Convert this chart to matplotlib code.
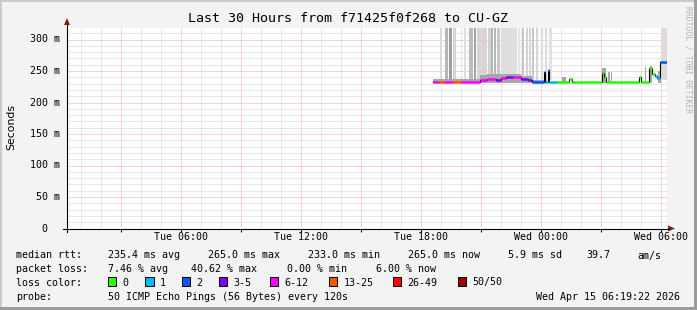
"""
SmokePing style latency graph: last 30 hours from f71425f0f268 to CU-GZ.
"""

import numpy as np
import matplotlib.pyplot as plt
from matplotlib.patches import Rectangle, Polygon
from matplotlib.lines import Line2D
from matplotlib import transforms

W, H = 697, 310
MONO = "DejaVu Sans Mono"

# time axis in hours since Tue 00:00, graph ends Wed 06:19:22
t_end = 30 + 19 / 60 + 22 / 3600
t_begin = t_end - 30

# median rtt segments (start hour, ms, lost pings of 50)
med_start = [18.60, 18.90, 19.15, 19.60, 20.00, 20.95, 21.30, 21.75, 22.00, 22.25,
             22.60, 23.00, 23.35, 23.55, 24.15, 24.20, 24.35, 24.40, 24.80, 25.40,
             25.55, 27.05, 27.15, 27.25, 28.90, 29.00, 29.40, 29.55, 29.70, 29.80,
             29.95]
med_stop = 30.30
med_ms = [233, 233, 233, 233, 233, 236, 238, 236, 239, 241,
          240, 238, 235, 233, 248, 233, 252, 233, 233, 237,
          233, 247, 241, 233, 241, 233, 254, 245, 242, 239,
          265]
med_lost = [8, 15, 8, 15, 8, 8, 8, 4, 8, 4,
            8, 4, 4, 2, 2, 1, 1, 1, 0, 0,
            0, 0, 0, 0, 0, 0, 0, 0, 1, 1,
            2]

# smoke columns where part of the pings went above the chart top
tall_start = [18.95, 19.20, 19.40, 19.60, 20.15, 20.40, 20.65, 20.80, 21.05, 21.35,
              21.50, 21.65, 21.80, 22.00, 22.85, 23.05, 23.25, 23.40, 23.55, 23.75,
              24.00, 24.20, 24.40, 30.05]
tall_stop = [19.05, 19.35, 19.55, 19.75, 20.25, 20.60, 20.75, 21.00, 21.30, 21.50,
             21.60, 21.75, 21.95, 22.80, 22.95, 23.15, 23.35, 23.50, 23.65, 23.85,
             24.10, 24.30, 24.55, 30.30]
tall_over = [6, 18, 26, 8, 5, 16, 24, 8, 8, 9,
             18, 18, 12, 5, 3, 12, 8, 8, 12, 8,
             6, 6, 4, 6]

# smoke spread that stays inside the chart (ms range)
low_start = [18.60, 20.95, 21.30, 23.00, 23.55, 25.05, 27.05, 27.35, 27.50, 29.20, 29.45, 29.85]
low_stop = [20.95, 21.30, 23.00, 23.55, 24.30, 25.25, 27.25, 27.45, 27.55, 29.25, 29.55, 30.00]
low_min = [231, 231, 231, 231, 231, 231, 231, 231, 231, 231, 231, 231]
low_max = [237, 243, 246, 242, 236, 240, 255, 248, 248, 257, 258, 250]

loss_labels = ["0", "1", "2", "3-5", "6-12", "13-25", "26-49", "50/50"]
loss_bounds = [0, 1, 2, 3, 6, 13, 26, 50]
loss_colors = ["#26ff00", "#00b8ff", "#0059ff", "#7e00ff",
               "#ff00ff", "#ff5500", "#ff0000", "#a10000"]

stats_rtt = ["235.4 ms avg", "265.0 ms max", "233.0 ms min", "265.0 ms now", "5.9 ms sd", "39.7", "am/s"]
stats_loss = ["7.46 % avg", "40.62 % max", "0.00 % min", "6.00 % now"]


def fx(px):
    return px / W


def fy(py):
    return 1 - py / H


def loss_color(lost):
    idx = 0
    for i, b in enumerate(loss_bounds):
        if lost >= b:
            idx = i
    return loss_colors[idx]


fig = plt.figure(figsize=(W / 100, H / 100), dpi=100)
fig.patch.set_facecolor("#f3f3f3")

# frame shading
frame = [((0, fy(2)), 1, 2 / H, "#cbcbcb"),
         ((0, 0), 2 / W, 1, "#cbcbcb"),
         ((fx(694), 0), 3 / W, 1, "#9c9c9c"),
         ((0, 0), 1, 3 / H, "#9c9c9c")]
for xy, w, h, c in frame:
    fig.add_artist(Rectangle(xy, w, h, transform=fig.transFigure, color=c, lw=0, zorder=-5))

ax = fig.add_axes([fx(67), fy(228.5), fx(600), fy(28) - fy(228.5)])
ax.set_facecolor("white")
ax.set_xlim(t_begin, t_end)
ax.set_ylim(0, 200.5 / 0.63)
for s in ax.spines.values():
    s.set_visible(False)

# grid
ax.set_xticks(np.arange(3, 31, 3))
ax.set_xticks(np.arange(1, 31, 1), minor=True)
ax.set_yticks(np.arange(0, 301, 50))
ax.set_yticks(np.arange(0, 320, 10), minor=True)
ax.grid(which="minor", color="#d2d2d2", linestyle=(0, (1, 1)), linewidth=0.72)
ax.grid(which="major", color="#f4a8a8", linestyle=(0, (1, 1)), linewidth=0.72)
ax.set_axisbelow(True)

xlabels = []
for h in np.arange(3, 31, 3):
    if h % 6 == 0:
        day = "Tue" if h < 24 else "Wed"
        xlabels.append(f"{day} {h % 24:02d}:00")
    else:
        xlabels.append("")
ax.set_xticklabels(xlabels, family=MONO, fontsize=7.2)
ax.tick_params(axis="x", which="major", length=2, direction="out", pad=0.8, width=0.7)
ax.tick_params(axis="x", which="minor", length=0)
ax.tick_params(axis="y", which="both", length=0, labelleft=False)

ytrans = transforms.blended_transform_factory(fig.transFigure, ax.transData)
for v in np.arange(0, 301, 50):
    if v == 0:
        ax.text(fx(47.5), v, "0", transform=ytrans, ha="right", va="center", family=MONO, fontsize=7.2)
    else:
        ax.text(fx(59.5), v, f"{v} m", transform=ytrans, ha="right", va="center", family=MONO, fontsize=7.2)

# smoke
for a, b, n in zip(tall_start, tall_stop, tall_over):
    g = 0.93 - 0.012 * n
    ax.bar(a, 400, width=b - a, bottom=236, align="edge", color=(g, g, g), lw=0)
for a, b, lo, hi in zip(low_start, low_stop, low_min, low_max):
    ax.bar(a, hi - lo, width=b - a, bottom=lo, align="edge", color="#a6a6a6", lw=0)

# median line: black steps, then loss coloured pieces
xs = med_start + [med_stop]
ys = med_ms + [med_ms[-1]]
ax.step(xs, ys, where="post", color="black", lw=0.8)
for i in range(len(med_start)):
    end = med_start[i + 1] if i + 1 < len(med_start) else med_stop
    ax.hlines(med_ms[i], med_start[i], end, color=loss_color(med_lost[i]), lw=1.8, capstyle="butt")

# axes with arrows
axis_c = "black"
arrow_c = "#8b1a1a"
fig.add_artist(Line2D([fx(67), fx(67)], [fy(232), fy(25)], transform=fig.transFigure, color=axis_c, lw=0.8))
fig.add_artist(Line2D([fx(63), fx(669)], [fy(228.5), fy(228.5)], transform=fig.transFigure, color=axis_c, lw=0.8))
fig.add_artist(Polygon([[fx(64), fy(25)], [fx(70), fy(25)], [fx(67), fy(18)]], closed=True,
                       transform=fig.transFigure, color=arrow_c, lw=0))
fig.add_artist(Polygon([[fx(668), fy(225.5)], [fx(668), fy(231.5)], [fx(675), fy(228.5)]], closed=True,
                       transform=fig.transFigure, color=arrow_c, lw=0))

# texts
fig.text(fx(348), fy(19), "Last 30 Hours from f71425f0f268 to CU-GZ", ha="center", va="center",
         family=MONO, fontsize=9.6)
fig.text(fx(11), fy(127), "Seconds", rotation=90, ha="center", va="center",
         family="DejaVu Sans", fontsize=7.8)
fig.text(fx(688), fy(60), "RRDTOOL / TOBI OETIKER", rotation=270, ha="center", va="center",
         family=MONO, fontsize=5.8, color="#b4b4b4")

# legend rows, placed on their baselines
row_base = [258.5, 272, 285.5, 299.5]
col0 = 16.4
col1 = 107.6
fig.text(fx(col0), fy(row_base[0]), "median rtt:", va="baseline", family=MONO, fontsize=7.2)
for px, s in zip([107.6, 207.6, 308, 408, 508, 586.7, 636.9], stats_rtt):
    fig.text(fx(px), fy(row_base[0]), s, va="baseline", family=MONO, fontsize=7.2)

fig.text(fx(col0), fy(row_base[1]), "packet loss:", va="baseline", family=MONO, fontsize=7.2)
for px, s in zip([107.6, 191.5, 286.7, 375.6], stats_loss):
    fig.text(fx(px), fy(row_base[1]), s, va="baseline", family=MONO, fontsize=7.2)

fig.text(fx(col0), fy(row_base[2]), "loss color:", va="baseline", family=MONO, fontsize=7.2)
box_x = [108, 145.3, 182, 219, 270, 329, 393, 458]
for px, lab, c in zip(box_x, loss_labels, loss_colors):
    fig.add_artist(Rectangle((fx(px), fy(row_base[2] + 0.5)), 8.4 / W, 9 / H,
                             transform=fig.transFigure, facecolor=c, edgecolor="black", lw=0.7))
    fig.text(fx(px + 14.5), fy(row_base[2]), lab, va="baseline", family=MONO, fontsize=7.2)

fig.text(fx(col0), fy(row_base[3]), "probe:", va="baseline", family=MONO, fontsize=7.2)
fig.text(fx(col1), fy(row_base[3]), "50 ICMP Echo Pings (56 Bytes) every 120s", va="baseline",
         family=MONO, fontsize=7.2)
fig.text(fx(680.5), fy(row_base[3]), "Wed Apr 15 06:19:22 2026", va="baseline", ha="right",
         family=MONO, fontsize=7.2)

fig.savefig("out.png", dpi=100)
